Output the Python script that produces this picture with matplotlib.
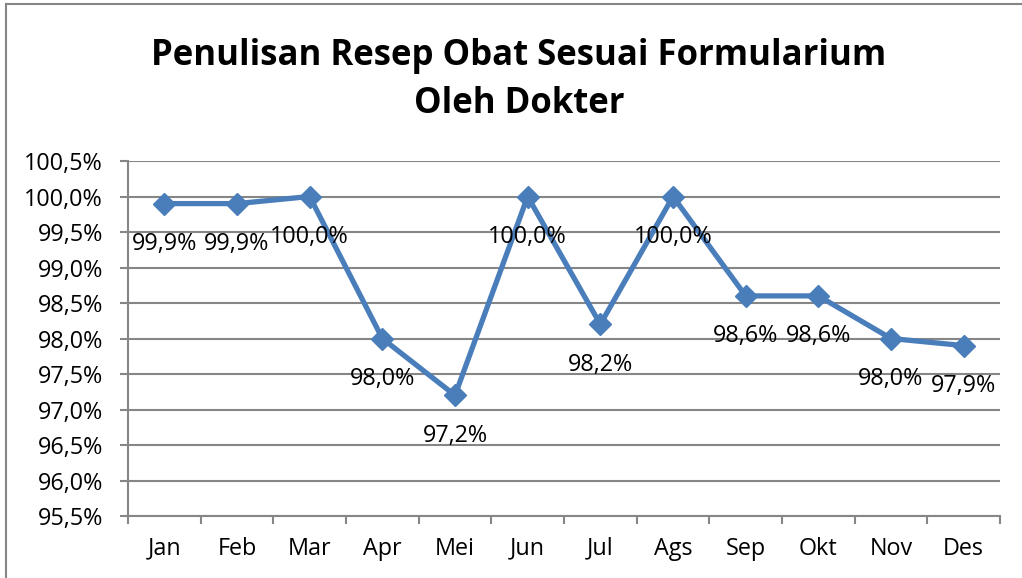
import matplotlib
matplotlib.use("Agg")
import matplotlib.pyplot as plt
from matplotlib.lines import Line2D

months = ["Jan", "Feb", "Mar", "Apr", "Mei", "Jun", "Jul", "Ags", "Sep", "Okt", "Nov", "Des"]
values = [99.9, 99.9, 100.0, 98.0, 97.2, 100.0, 98.2, 100.0, 98.6, 98.6, 98.0, 97.9]
yticks = [95.5, 96.0, 96.5, 97.0, 97.5, 98.0, 98.5, 99.0, 99.5, 100.0, 100.5]

plt.rcParams['font.family'] = ['Open Sans', 'DejaVu Sans']

W, H = 1022, 578
fig = plt.figure(figsize=(W/100, H/100), dpi=100)
ax = fig.add_axes([128/W, 1-516/H, (1000-128)/W, (516-161)/H])

line_color = "#4A7EBB"
grid_color = "#868686"
fs = 16.8

x = list(range(len(months)))
ax.plot(x, values, color=line_color, lw=3.8, marker="D", markersize=11.5,
        markerfacecolor=line_color, markeredgecolor=line_color, zorder=3, clip_on=False)

for xi, v in zip(x, values):
    ax.annotate(f"{v:.1f}%".replace(".", ","), (xi, v), xytext=(0, -29),
                textcoords="offset points", ha="center", va="center",
                fontsize=fs, color="black", zorder=4)

ax.set_ylim(95.5, 100.5)
ax.set_xlim(-0.5, 11.5)
ax.set_yticks(yticks)
ax.set_yticklabels([f"{t:.1f}%".replace(".", ",") for t in yticks], fontsize=fs)
ax.set_xticks([i + 0.5 for i in range(-1, 12)], minor=False)
ax.set_xticklabels([])
ax.set_xticks(x, minor=True)
ax.set_xticklabels(months, minor=True, fontsize=fs)
ax.tick_params(axis="x", which="minor", length=0, pad=15)
ax.tick_params(axis="x", which="major", length=6, width=1.5, color=grid_color, direction="out")
ax.tick_params(axis="y", length=6, width=1.5, color=grid_color, direction="out", pad=12)

ax.grid(axis="y", color=grid_color, lw=1.5)
ax.set_axisbelow(True)
for s in ["top", "right"]:
    ax.spines[s].set_visible(False)
ax.spines["left"].set_color(grid_color)
ax.spines["left"].set_linewidth(1.5)
ax.spines["bottom"].set_color(grid_color)
ax.spines["bottom"].set_linewidth(1.5)

fig.text(519/W, 1-80/H, "Penulisan Resep Obat Sesuai Formularium\nOleh Dokter",
         ha="center", va="center", fontsize=25, fontweight="bold", linespacing=1.45)

# outer chart border (top and left visible)
fig.add_artist(Line2D([6/W, 1], [1-4/H, 1-4/H], transform=fig.transFigure, color=grid_color, lw=1.5))
fig.add_artist(Line2D([6/W, 6/W], [0, 1-4/H], transform=fig.transFigure, color=grid_color, lw=1.5))

fig.savefig("out.png", dpi=100)
